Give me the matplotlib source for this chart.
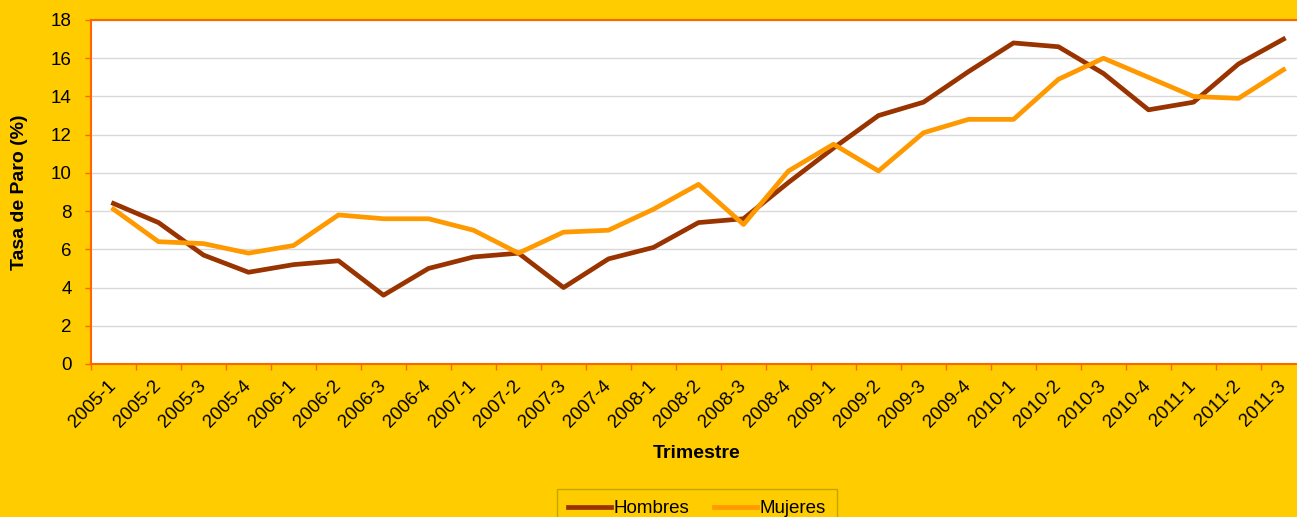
import matplotlib
matplotlib.use("Agg")
import matplotlib.pyplot as plt
import numpy as np

plt.rcParams['font.family'] = ['Liberation Sans', 'DejaVu Sans']

trimestres = ["2005-1", "2005-2", "2005-3", "2005-4",
              "2006-1", "2006-2", "2006-3", "2006-4",
              "2007-1", "2007-2", "2007-3", "2007-4",
              "2008-1", "2008-2", "2008-3", "2008-4",
              "2009-1", "2009-2", "2009-3", "2009-4",
              "2010-1", "2010-2", "2010-3", "2010-4",
              "2011-1", "2011-2", "2011-3"]

hombres = [8.4, 7.4, 5.7, 4.8, 5.2, 5.4, 3.6, 5.0, 5.6, 5.8, 4.0, 5.5,
           6.1, 7.4, 7.6, 9.5, 11.3, 13.0, 13.7, 15.3, 16.8, 16.6, 15.2,
           13.3, 13.7, 15.7, 17.0]
mujeres = [8.1, 6.4, 6.3, 5.8, 6.2, 7.8, 7.6, 7.6, 7.0, 5.8, 6.9, 7.0,
           8.1, 9.4, 7.3, 10.1, 11.5, 10.1, 12.1, 12.8, 12.8, 14.9, 16.0,
           15.0, 14.0, 13.9, 15.4]

bg = "#FFCC00"
borde = "#FF6600"

fig = plt.figure(figsize=(12.97, 5.17), dpi=100, facecolor=bg)
W, H = 1297, 517
ax = fig.add_axes([91 / W, 153 / H, 1215 / W, 344 / H])
ax.set_facecolor("white")

x = np.arange(len(trimestres))
ax.plot(x, hombres, color="#993300", lw=3.4, label="Hombres")
ax.plot(x, mujeres, color="#FF9900", lw=3.4, label="Mujeres")

ax.set_xlim(-0.5, len(trimestres) - 0.5)
ax.set_ylim(0, 18)
ax.set_yticks(np.arange(0, 19, 2))
ax.yaxis.grid(True, color="#D9D9D9", lw=1)
ax.set_axisbelow(True)

ax.set_xticks(x)
ax.set_xticklabels(trimestres, rotation=45, ha="right", va="center",
                   rotation_mode="anchor", fontsize=13.5)
ax.set_xticks(np.arange(-0.5, len(trimestres), 1), minor=True)
ax.tick_params(axis="x", which="major", length=0, pad=14)
ax.tick_params(axis="x", which="minor", length=4, color=borde, width=1)
ax.tick_params(axis="y", length=4, color=borde, width=1, pad=10, labelsize=13.5)

for s in ax.spines.values():
    s.set_color(borde)
    s.set_linewidth(1.5)

fig.text(20 / W, 1 - 192 / H, "Tasa de Paro (%)", rotation=90, fontsize=14,
         fontweight="bold", ha="center", va="center")
fig.text(697 / W, 1 - 454 / H, "Trimestre", fontsize=14,
         fontweight="bold", ha="center", va="center")

leg = fig.legend(loc="upper center", bbox_to_anchor=(697 / W, 1 - 489 / H),
                 ncol=2, fontsize=13.5, frameon=True, fancybox=False,
                 handlelength=2.3, handletextpad=0.15, columnspacing=1.3,
                 borderpad=0.6, borderaxespad=0)
leg.get_frame().set_facecolor(bg)
leg.get_frame().set_edgecolor("#B89A00")
leg.get_frame().set_linewidth(1)

fig.savefig("out.png", dpi=100, facecolor=bg)
